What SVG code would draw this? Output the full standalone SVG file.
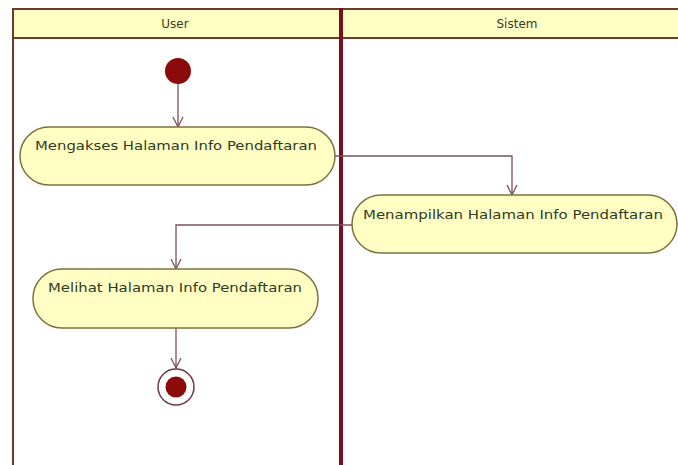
<svg xmlns="http://www.w3.org/2000/svg" width="678" height="465" viewBox="0 0 678 465">
  <defs>
    <style>
      .lane-head { fill: #ffffc4; }
      .lane-line { stroke: #6b3a30; stroke-width: 2; fill: none; }
      .divider { stroke: #7a0f1c; stroke-width: 4; }
      .title { font-family: "DejaVu Sans", "Liberation Sans", sans-serif; font-size: 12px; fill: #3a3a28; text-anchor: middle; }
      .action { fill: #ffffc4; stroke: #7f703e; stroke-width: 1.5; }
      .label { font-family: "DejaVu Sans", "Liberation Sans", sans-serif; font-size: 12.5px; fill: #2f3a1f; }
      .flow { stroke: #7a5060; stroke-width: 1.3; fill: none; marker-end: url(#open-arrow); }
      .dot { fill: #8b0a0a; }
    </style>
    <marker id="open-arrow" viewBox="0 0 12 12" refX="11" refY="6" markerWidth="12" markerHeight="12" markerUnits="userSpaceOnUse" orient="auto">
      <path d="M1,1 L11,6 L1,11" fill="none" stroke="#7a5060" stroke-width="1.3"/>
    </marker>
  </defs>

  <rect width="678" height="465" fill="#ffffff"/>

  <!-- swimlanes -->
  <g id="lanes">
    <rect class="lane-head" x="13" y="9" width="665" height="29"/>
    <line class="lane-line" x1="13" y1="9" x2="678" y2="9"/>
    <line class="lane-line" x1="13" y1="38" x2="678" y2="38"/>
    <line class="lane-line" x1="13" y1="8" x2="13" y2="465" stroke="#4a3838"/>
    <line class="divider" x1="341" y1="8" x2="341" y2="465"/>
    <text class="title" x="175" y="28">User</text>
    <text class="title" x="517" y="28">Sistem</text>
  </g>

  <!-- connectors -->
  <g id="connectors">
    <path class="flow" d="M178,84 L178,127"/>
    <path class="flow" d="M335,156 L512,156 L512,195"/>
    <path class="flow" d="M352,225 L176,225 L176,269"/>
    <path class="flow" d="M176,328 L176,368"/>
  </g>

  <g id="start">
    <circle class="dot" cx="178" cy="71" r="13"/>
  </g>

  <g id="mengakses">
    <rect class="action" x="20" y="127" width="315" height="58" rx="29" ry="29"/>
    <text class="label" x="35" y="150" textLength="282" lengthAdjust="spacingAndGlyphs">Mengakses Halaman Info Pendaftaran</text>
  </g>

  <g id="menampilkan">
    <rect class="action" x="352" y="195" width="325" height="58" rx="29" ry="29"/>
    <text class="label" x="363" y="219" textLength="300" lengthAdjust="spacingAndGlyphs">Menampilkan Halaman Info Pendaftaran</text>
  </g>

  <g id="melihat">
    <rect class="action" x="33" y="269" width="285" height="59" rx="29" ry="29"/>
    <text class="label" x="48" y="292" textLength="254" lengthAdjust="spacingAndGlyphs">Melihat Halaman Info Pendaftaran</text>
  </g>

  <g id="end">
    <circle cx="176" cy="387" r="18" fill="#ffffff" stroke="#6b3a40" stroke-width="1.5"/>
    <circle class="dot" cx="176" cy="387" r="10.5"/>
  </g>
</svg>
